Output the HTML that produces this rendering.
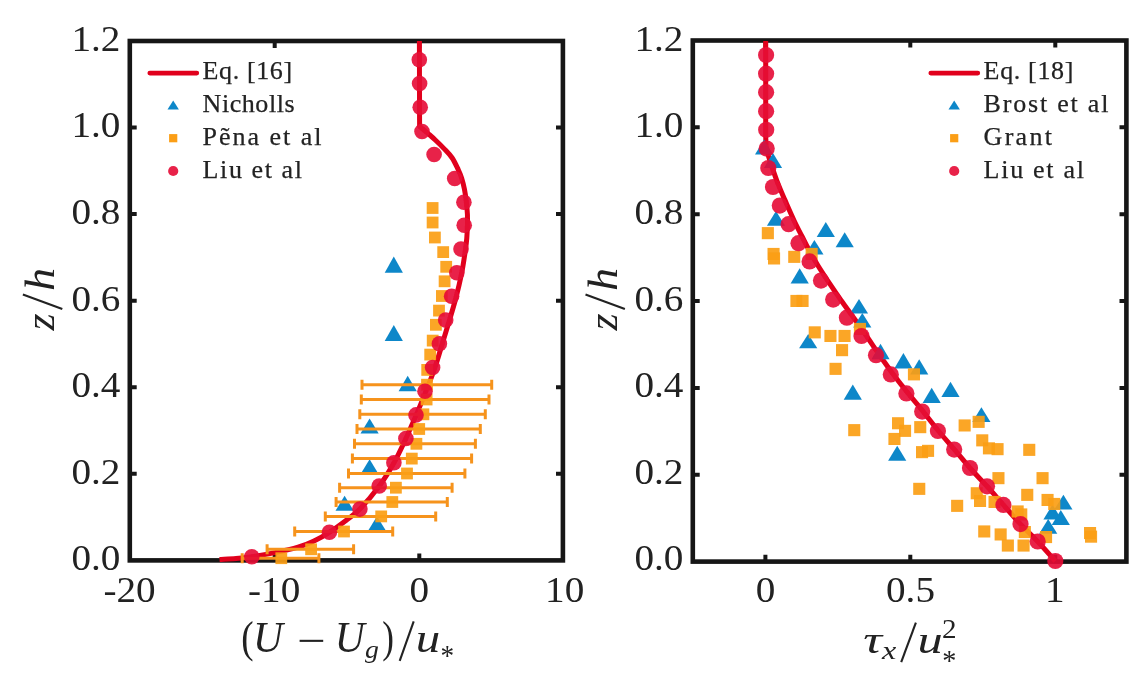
<!DOCTYPE html>
<html><head><meta charset="utf-8"><title>Profiles</title>
<style>html,body{margin:0;padding:0;background:#fff;}body{width:1147px;height:683px;overflow:hidden;}svg{display:block;}text{font-family:"Liberation Serif",serif;fill:#222222;stroke:#222222;stroke-width:0;}.lg{stroke-width:0.25px;}.tk{font-size:35px;}.lg{font-size:26px;}.lb{font-size:42px;}.it{font-style:italic;}</style>
</head><body>
<svg width="1147" height="683" viewBox="0 0 1147 683">
<defs><filter id="soft" x="0" y="0" width="1147" height="683" filterUnits="userSpaceOnUse"><feGaussianBlur stdDeviation="0.5"/></filter></defs>
<rect width="1147" height="683" fill="#ffffff"/>
<g filter="url(#soft)">
<rect width="1147" height="683" fill="#ffffff"/>
<g stroke="#141414" stroke-width="4.6" fill="none" stroke-linecap="butt">
<rect x="129.8" y="41.0" width="433.1" height="519.4" stroke-linejoin="miter"/>
<path d="M129.8 473.8h6.9M562.9 473.8h-6.9M129.8 387.3h6.9M562.9 387.3h-6.9M129.8 300.7h6.9M562.9 300.7h-6.9M129.8 214.1h6.9M562.9 214.1h-6.9M129.8 127.6h6.9M562.9 127.6h-6.9M274.7 560.4v-6.9M274.7 41.0v6.9M419.3 560.4v-6.9M419.3 41.0v6.9" stroke-width="4.0"/>
</g>
<g stroke="#141414" stroke-width="4.6" fill="none" stroke-linecap="butt">
<rect x="692.8" y="40.5" width="433.6" height="521.1" stroke-linejoin="miter"/>
<path d="M692.8 474.8h6.9M1126.4 474.8h-6.9M692.8 387.9h6.9M1126.4 387.9h-6.9M692.8 301.0h6.9M1126.4 301.0h-6.9M692.8 214.2h6.9M1126.4 214.2h-6.9M692.8 127.3h6.9M1126.4 127.3h-6.9M765.4 561.6v-6.9M765.4 40.5v6.9M910.3 561.6v-6.9M910.3 40.5v6.9M1055.3 561.6v-6.9M1055.3 40.5v6.9" stroke-width="4.0"/>
</g>
<text class="tk" transform="translate(120.4 570.2) scale(1.120 1.030)" text-anchor="end">0.0</text>
<text class="tk" transform="translate(120.4 483.6) scale(1.120 1.030)" text-anchor="end">0.2</text>
<text class="tk" transform="translate(120.4 397.1) scale(1.120 1.030)" text-anchor="end">0.4</text>
<text class="tk" transform="translate(120.4 310.5) scale(1.120 1.030)" text-anchor="end">0.6</text>
<text class="tk" transform="translate(120.4 223.9) scale(1.120 1.030)" text-anchor="end">0.8</text>
<text class="tk" transform="translate(120.4 137.4) scale(1.120 1.030)" text-anchor="end">1.0</text>
<text class="tk" transform="translate(120.4 50.8) scale(1.120 1.030)" text-anchor="end">1.2</text>
<text class="tk" transform="translate(683.4 570.2) scale(1.120 1.030)" text-anchor="end">0.0</text>
<text class="tk" transform="translate(683.4 483.6) scale(1.120 1.030)" text-anchor="end">0.2</text>
<text class="tk" transform="translate(683.4 397.1) scale(1.120 1.030)" text-anchor="end">0.4</text>
<text class="tk" transform="translate(683.4 310.5) scale(1.120 1.030)" text-anchor="end">0.6</text>
<text class="tk" transform="translate(683.4 223.9) scale(1.120 1.030)" text-anchor="end">0.8</text>
<text class="tk" transform="translate(683.4 137.4) scale(1.120 1.030)" text-anchor="end">1.0</text>
<text class="tk" transform="translate(683.4 50.8) scale(1.120 1.030)" text-anchor="end">1.2</text>
<text class="tk" transform="translate(129.5 602.2) scale(1.120 1.050)" text-anchor="middle">-20</text>
<text class="tk" transform="translate(274.1 602.2) scale(1.120 1.050)" text-anchor="middle">-10</text>
<text class="tk" transform="translate(419.3 602.2) scale(1.120 1.050)" text-anchor="middle">0</text>
<text class="tk" transform="translate(564.7 602.2) scale(1.120 1.050)" text-anchor="middle">10</text>
<text class="tk" transform="translate(765.6 602.2) scale(1.120 1.050)" text-anchor="middle">0</text>
<text class="tk" transform="translate(910.5 602.2) scale(1.120 1.050)" text-anchor="middle">0.5</text>
<text class="tk" transform="translate(1054.8 602.2) scale(1.120 1.050)" text-anchor="middle">1</text>
<g transform="translate(54.0 331.2) rotate(-90)">
<text font-size="42" class="it" transform="matrix(1.046 0 0 0.987 0.72 0.00)">z</text>
<path d="M22.3 8.3L36.8 -31.1" stroke="#222222" stroke-width="2.1" fill="none"/>
<text font-size="42" class="it" transform="matrix(1.099 0 0 0.993 40.25 0.00)">h</text>
</g>
<g transform="translate(616.6 331.2) rotate(-90)">
<text font-size="42" class="it" transform="matrix(1.046 0 0 0.987 0.72 0.00)">z</text>
<path d="M22.3 8.3L36.8 -31.1" stroke="#222222" stroke-width="2.1" fill="none"/>
<text font-size="42" class="it" transform="matrix(1.099 0 0 0.993 40.25 0.00)">h</text>
</g>
<g>
<text font-size="42" transform="matrix(0.882 0 0 1.075 241.36 651.79)">(</text>
<text font-size="42" class="it" transform="matrix(0.986 0 0 1.043 253.06 651.88)">U</text>
<rect x="299.6" y="639.8" width="23.6" height="2.1" fill="#222222"/>
<text font-size="42" class="it" transform="matrix(0.986 0 0 1.043 334.76 651.88)">U</text>
<text font-size="29" class="it" transform="matrix(0.956 0 0 0.841 364.90 657.55)">g</text>
<text font-size="42" transform="matrix(0.836 0 0 1.075 382.15 651.79)">)</text>
<path d="M399.7 660.9L413.7 621.4" stroke="#222222" stroke-width="2.1" fill="none"/>
<text font-size="42" class="it" transform="matrix(1.166 0 0 0.957 415.87 652.02)">u</text>
<text font-size="29" transform="matrix(0.939 0 0 1.010 440.39 665.18)">*</text>
</g>
<g>
<text font-size="42" class="it" transform="matrix(1.246 0 0 0.896 863.15 652.55)">τ</text>
<text font-size="29" class="it" transform="matrix(1.108 0 0 0.853 881.88 658.60)">x</text>
<path d="M901.2 662.2L915.9 622.6" stroke="#222222" stroke-width="2.1" fill="none"/>
<text font-size="42" class="it" transform="matrix(1.200 0 0 0.922 917.50 652.54)">u</text>
<text font-size="29" transform="matrix(1.004 0 0 0.935 941.94 638.00)">2</text>
<text font-size="29" transform="matrix(0.974 0 0 1.010 942.34 669.98)">*</text>
</g>
<g fill="none" stroke="#e1001d" stroke-width="5.0" stroke-linejoin="round">
<path d="M219.5 559.6 C222.2 559.4 230.6 559.1 236.0 558.6 C241.4 558.1 245.5 557.7 252.0 556.7 C258.5 555.7 267.3 554.2 275.0 552.6 C282.7 551.0 291.5 549.1 298.0 547.2 C304.5 545.3 308.8 543.5 314.0 541.0 C319.2 538.5 324.1 535.7 329.4 532.3 C334.7 528.9 340.9 524.4 346.0 520.5 C351.1 516.6 354.3 514.9 359.9 509.1 C365.4 503.4 373.6 493.7 379.3 486.0 C385.0 478.3 389.6 470.7 394.0 462.8 C398.4 454.9 402.2 446.5 405.9 438.5 C409.6 430.5 412.9 422.8 416.3 414.9 C419.7 407.0 422.9 399.0 426.0 391.2 C429.1 383.4 432.1 376.0 434.8 368.0 C437.6 360.0 440.1 351.0 442.5 343.0 C444.9 335.0 447.2 327.6 449.5 320.0 C451.8 312.4 454.0 305.2 456.0 297.5 C458.0 289.8 459.9 281.9 461.5 274.0 C463.1 266.1 464.5 256.0 465.4 250.0 C466.3 244.0 466.5 242.1 466.8 238.0 C467.1 233.9 467.3 229.4 467.4 225.4 C467.5 221.4 467.6 218.0 467.4 214.0 C467.2 210.0 466.8 205.8 466.3 201.6 C465.8 197.4 465.2 192.9 464.4 189.0 C463.6 185.1 462.6 181.2 461.6 178.0 C460.6 174.8 460.0 173.3 458.4 170.0 C456.8 166.7 454.6 161.6 452.2 158.0 C449.8 154.4 446.8 151.6 444.0 148.6 C441.2 145.6 438.1 142.6 435.3 140.0 C432.6 137.4 430.1 135.3 427.5 133.0 C424.9 130.7 420.9 127.5 419.6 126.4 L419.4 41"/>
<path d="M765.7 41 L765.7 132 L765.8 140.0 C765.9 141.6 765.8 145.8 766.6 149.5 C767.4 153.2 768.7 156.8 770.4 162.0 C772.1 167.2 774.4 174.3 776.8 180.6 C779.2 186.9 781.9 193.0 784.7 199.6 C787.6 206.2 791.0 214.1 793.9 220.2 C796.8 226.3 799.4 231.3 801.8 236.0 C804.2 240.7 805.5 243.5 808.2 248.5 C810.9 253.5 814.5 259.9 818.2 266.0 C822.0 272.1 826.9 279.5 830.7 285.2 C834.5 290.9 837.2 294.9 840.8 300.0 C844.4 305.1 848.2 310.2 852.4 316.0 C856.6 321.8 861.3 328.5 865.8 335.0 C870.3 341.5 875.0 348.6 879.6 355.2 C884.2 361.8 888.6 368.0 893.4 374.4 C898.2 380.8 903.2 387.2 908.2 393.4 C913.2 399.6 918.2 405.3 923.2 411.6 C928.2 417.9 933.3 424.7 938.5 431.0 C943.7 437.3 949.2 443.4 954.5 449.6 C959.8 455.8 964.6 461.9 970.0 468.0 C975.4 474.1 981.4 480.2 987.0 486.3 C992.6 492.4 997.8 498.6 1003.4 504.9 C1009.0 511.2 1014.8 518.0 1020.5 524.1 C1026.2 530.2 1031.9 535.4 1037.7 541.5 C1043.5 547.6 1052.4 557.8 1055.3 561.0"/>
</g>
<g fill="#0f87c9">
<path d="M393.8 256.6L402.9 272.8L384.7 272.8Z"/>
<path d="M393.8 325.1L402.9 341.0L384.7 341.0Z"/>
<path d="M407.7 375.8L416.8 391.3L398.6 391.3Z"/>
<path d="M369.6 418.4L378.7 433.6L360.5 433.6Z"/>
<path d="M369.6 459.3L378.7 474.3L360.5 474.3Z"/>
<path d="M344.6 495.8L353.7 510.8L335.5 510.8Z"/>
<path d="M377.0 516.2L386.1 531.0L367.9 531.0Z"/>
<path d="M764.1 139.5L773.2 154.6L755.0 154.6Z"/>
<path d="M773.0 153.0L782.1 168.0L763.9 168.0Z"/>
<path d="M776.0 211.0L785.1 225.8L766.9 225.8Z"/>
<path d="M825.8 221.9L834.9 236.9L816.7 236.9Z"/>
<path d="M844.7 232.2L853.8 247.2L835.6 247.2Z"/>
<path d="M814.4 240.0L823.5 254.6L805.3 254.6Z"/>
<path d="M799.7 268.2L808.8 283.6L790.6 283.6Z"/>
<path d="M859.0 299.0L868.1 313.5L849.9 313.5Z"/>
<path d="M862.3 313.0L871.4 327.5L853.2 327.5Z"/>
<path d="M808.2 334.0L817.3 348.3L799.1 348.3Z"/>
<path d="M880.5 343.8L889.6 359.3L871.4 359.3Z"/>
<path d="M903.4 353.0L912.5 368.4L894.3 368.4Z"/>
<path d="M919.2 359.3L928.3 374.4L910.1 374.4Z"/>
<path d="M852.8 384.5L861.9 399.8L843.7 399.8Z"/>
<path d="M931.7 387.7L940.8 402.9L922.6 402.9Z"/>
<path d="M950.5 381.8L959.6 397.0L941.4 397.0Z"/>
<path d="M981.4 407.2L990.5 421.9L972.3 421.9Z"/>
<path d="M897.2 445.7L906.3 460.7L888.1 460.7Z"/>
<path d="M1063.4 494.8L1072.5 509.5L1054.3 509.5Z"/>
<path d="M1052.5 504.5L1061.6 519.4L1043.4 519.4Z"/>
<path d="M1060.8 510.0L1069.9 524.9L1051.7 524.9Z"/>
<path d="M1048.2 519.0L1057.3 533.7L1039.1 533.7Z"/>
</g>
<g stroke="#f6931c" stroke-width="3" fill="none">
<path d="M361.3 384.7H492.4M362.0 379.7v10M491.7 379.7v10M360.6 399.5H489.7M361.3 394.5v10M489.0 394.5v10M359.1 414.3H486.0M359.8 409.3v10M485.3 409.3v10M356.3 429.0H481.0M357.0 424.0v10M480.3 424.0v10M353.8 443.8H476.1M354.5 438.8v10M475.4 438.8v10M351.7 458.6H472.3M352.4 453.6v10M471.6 453.6v10M347.8 473.5H465.6M348.5 468.5v10M464.9 468.5v10M338.9 487.7H452.8M339.6 482.7v10M452.1 482.7v10M335.4 502.0H448.0M336.1 497.0v10M447.3 497.0v10M324.6 516.4H436.4M325.3 511.4v10M435.7 511.4v10M294.0 531.5H393.4M294.7 526.5v10M392.7 526.5v10M266.4 549.3H354.3M267.1 544.3v10M353.6 544.3v10M241.5 558.2H319.6M242.2 553.2v10M318.9 553.2v10"/>
</g>
<g fill="#fb9e16" fill-opacity="0.92">
<rect x="426.7" y="202.1" width="11.8" height="11.8"/>
<rect x="426.7" y="216.6" width="11.8" height="11.8"/>
<rect x="429.0" y="231.6" width="11.8" height="11.8"/>
<rect x="437.3" y="246.2" width="11.8" height="11.8"/>
<rect x="440.3" y="260.9" width="11.8" height="11.8"/>
<rect x="438.7" y="275.4" width="11.8" height="11.8"/>
<rect x="436.0" y="290.1" width="11.8" height="11.8"/>
<rect x="433.1" y="304.7" width="11.8" height="11.8"/>
<rect x="430.0" y="318.9" width="11.8" height="11.8"/>
<rect x="426.8" y="334.7" width="11.8" height="11.8"/>
<rect x="424.3" y="348.7" width="11.8" height="11.8"/>
<rect x="421.3" y="364.0" width="11.8" height="11.8"/>
<rect x="421.1" y="378.8" width="11.8" height="11.8"/>
<rect x="420.7" y="393.6" width="11.8" height="11.8"/>
<rect x="417.5" y="408.4" width="11.8" height="11.8"/>
<rect x="413.3" y="423.1" width="11.8" height="11.8"/>
<rect x="410.5" y="437.9" width="11.8" height="11.8"/>
<rect x="405.9" y="452.7" width="11.8" height="11.8"/>
<rect x="401.1" y="467.6" width="11.8" height="11.8"/>
<rect x="390.0" y="481.8" width="11.8" height="11.8"/>
<rect x="386.4" y="496.1" width="11.8" height="11.8"/>
<rect x="375.3" y="510.5" width="11.8" height="11.8"/>
<rect x="338.1" y="525.6" width="11.8" height="11.8"/>
<rect x="305.2" y="543.4" width="11.8" height="11.8"/>
<rect x="275.4" y="552.3" width="11.8" height="11.8"/>
<rect x="761.8" y="227.1" width="12.1" height="12.1"/>
<rect x="767.5" y="247.9" width="12.1" height="12.1"/>
<rect x="768.0" y="252.4" width="12.1" height="12.1"/>
<rect x="788.2" y="250.8" width="12.1" height="12.1"/>
<rect x="805.6" y="247.9" width="12.1" height="12.1"/>
<rect x="790.4" y="294.9" width="12.1" height="12.1"/>
<rect x="796.5" y="294.9" width="12.1" height="12.1"/>
<rect x="808.7" y="326.3" width="12.1" height="12.1"/>
<rect x="824.4" y="329.9" width="12.1" height="12.1"/>
<rect x="838.5" y="329.9" width="12.1" height="12.1"/>
<rect x="853.9" y="322.9" width="12.1" height="12.1"/>
<rect x="836.0" y="344.1" width="12.1" height="12.1"/>
<rect x="829.5" y="362.8" width="12.1" height="12.1"/>
<rect x="907.9" y="368.3" width="12.1" height="12.1"/>
<rect x="848.2" y="424.1" width="12.1" height="12.1"/>
<rect x="892.0" y="417.2" width="12.1" height="12.1"/>
<rect x="899.0" y="424.8" width="12.1" height="12.1"/>
<rect x="888.4" y="432.9" width="12.1" height="12.1"/>
<rect x="914.2" y="421.1" width="12.1" height="12.1"/>
<rect x="916.0" y="446.1" width="12.1" height="12.1"/>
<rect x="922.0" y="444.8" width="12.1" height="12.1"/>
<rect x="958.6" y="419.4" width="12.1" height="12.1"/>
<rect x="972.6" y="415.8" width="12.1" height="12.1"/>
<rect x="976.2" y="434.3" width="12.1" height="12.1"/>
<rect x="982.9" y="442.3" width="12.1" height="12.1"/>
<rect x="991.5" y="443.1" width="12.1" height="12.1"/>
<rect x="913.2" y="482.8" width="12.1" height="12.1"/>
<rect x="992.4" y="472.1" width="12.1" height="12.1"/>
<rect x="1036.5" y="472.1" width="12.1" height="12.1"/>
<rect x="951.1" y="499.8" width="12.1" height="12.1"/>
<rect x="970.7" y="487.2" width="12.1" height="12.1"/>
<rect x="974.0" y="494.9" width="12.1" height="12.1"/>
<rect x="988.5" y="495.9" width="12.1" height="12.1"/>
<rect x="1021.2" y="488.8" width="12.1" height="12.1"/>
<rect x="1041.5" y="493.9" width="12.1" height="12.1"/>
<rect x="1048.2" y="497.9" width="12.1" height="12.1"/>
<rect x="1011.6" y="505.4" width="12.1" height="12.1"/>
<rect x="1015.2" y="508.4" width="12.1" height="12.1"/>
<rect x="978.2" y="525.4" width="12.1" height="12.1"/>
<rect x="994.6" y="528.4" width="12.1" height="12.1"/>
<rect x="1001.8" y="539.5" width="12.1" height="12.1"/>
<rect x="1017.5" y="539.5" width="12.1" height="12.1"/>
<rect x="1018.8" y="526.0" width="12.1" height="12.1"/>
<rect x="1040.0" y="531.0" width="12.1" height="12.1"/>
<rect x="1084.0" y="527.0" width="12.1" height="12.1"/>
<rect x="1085.0" y="530.6" width="12.1" height="12.1"/>
<rect x="1023.2" y="443.8" width="12.1" height="12.1"/>
</g>
<g fill="#e60a35" fill-opacity="0.9">
<circle cx="419.3" cy="59.7" r="7.8"/>
<circle cx="419.6" cy="83.5" r="7.8"/>
<circle cx="420.2" cy="107.2" r="7.8"/>
<circle cx="422.0" cy="131.5" r="7.8"/>
<circle cx="434.1" cy="154.5" r="7.8"/>
<circle cx="454.7" cy="178.5" r="7.8"/>
<circle cx="463.9" cy="202.3" r="7.8"/>
<circle cx="464.2" cy="225.3" r="7.8"/>
<circle cx="461.0" cy="249.1" r="7.8"/>
<circle cx="456.8" cy="272.8" r="7.8"/>
<circle cx="451.6" cy="296.3" r="7.8"/>
<circle cx="445.7" cy="320.1" r="7.8"/>
<circle cx="439.4" cy="343.8" r="7.8"/>
<circle cx="432.6" cy="367.5" r="7.8"/>
<circle cx="425.0" cy="391.2" r="7.8"/>
<circle cx="416.0" cy="414.9" r="7.8"/>
<circle cx="405.9" cy="438.5" r="7.8"/>
<circle cx="393.9" cy="462.8" r="7.8"/>
<circle cx="379.2" cy="486.0" r="7.8"/>
<circle cx="359.9" cy="509.1" r="7.8"/>
<circle cx="329.4" cy="532.3" r="7.8"/>
<circle cx="251.8" cy="556.7" r="7.8"/>
<circle cx="766.1" cy="55.0" r="8.1"/>
<circle cx="766.1" cy="73.7" r="8.1"/>
<circle cx="766.1" cy="92.2" r="8.1"/>
<circle cx="766.1" cy="111.2" r="8.1"/>
<circle cx="766.2" cy="129.8" r="8.1"/>
<circle cx="766.7" cy="148.6" r="8.1"/>
<circle cx="768.3" cy="168.0" r="8.1"/>
<circle cx="773.0" cy="187.0" r="8.1"/>
<circle cx="779.8" cy="205.6" r="8.1"/>
<circle cx="788.6" cy="224.2" r="8.1"/>
<circle cx="798.5" cy="243.2" r="8.1"/>
<circle cx="809.6" cy="261.4" r="8.1"/>
<circle cx="821.0" cy="280.6" r="8.1"/>
<circle cx="833.2" cy="299.6" r="8.1"/>
<circle cx="846.9" cy="317.7" r="8.1"/>
<circle cx="861.5" cy="336.0" r="8.1"/>
<circle cx="876.0" cy="355.2" r="8.1"/>
<circle cx="890.8" cy="374.4" r="8.1"/>
<circle cx="906.4" cy="393.4" r="8.1"/>
<circle cx="922.2" cy="411.6" r="8.1"/>
<circle cx="937.9" cy="431.0" r="8.1"/>
<circle cx="954.2" cy="449.6" r="8.1"/>
<circle cx="970.0" cy="468.0" r="8.1"/>
<circle cx="987.0" cy="486.3" r="8.1"/>
<circle cx="1003.4" cy="504.9" r="8.1"/>
<circle cx="1020.5" cy="524.1" r="8.1"/>
<circle cx="1037.7" cy="541.5" r="8.1"/>
<circle cx="1055.3" cy="561.0" r="8.1"/>
</g>
<path d="M149.8 73.1H196.8" stroke="#e1001d" stroke-width="4.7" stroke-linecap="round" fill="none"/>
<path fill="#0f87c9" d="M173.2 100.4L178.9 109.4L167.5 109.4Z"/>
<rect fill="#fb9e16" x="169.1" y="134.1" width="8.2" height="8.2"/>
<circle fill="#e60a35" fill-opacity="0.9" cx="173.2" cy="171" r="5.1"/>
<text class="lg" x="202.6" y="78.8" textLength="89.5" lengthAdjust="spacing">Eq. [16]</text>
<text class="lg" x="202.6" y="111.6" textLength="92.0" lengthAdjust="spacing">Nicholls</text>
<text class="lg" x="202.6" y="144.8" textLength="118.8" lengthAdjust="spacing">Pẽna et al</text>
<text class="lg" x="202.6" y="177.6" textLength="99.3" lengthAdjust="spacing">Liu et al</text>
<path d="M930.8 73.1H977.8" stroke="#e1001d" stroke-width="4.7" stroke-linecap="round" fill="none"/>
<path fill="#0f87c9" d="M954.2 100.4L959.9 109.4L948.5 109.4Z"/>
<rect fill="#fb9e16" x="950.1" y="134.1" width="8.2" height="8.2"/>
<circle fill="#e60a35" fill-opacity="0.9" cx="954.2" cy="171" r="5.1"/>
<text class="lg" x="983.6" y="78.8" textLength="89.8" lengthAdjust="spacing">Eq. [18]</text>
<text class="lg" x="983.6" y="111.6" textLength="124.8" lengthAdjust="spacing">Brost et al</text>
<text class="lg" x="983.6" y="144.8" textLength="68.3" lengthAdjust="spacing">Grant</text>
<text class="lg" x="983.6" y="177.6" textLength="100.3" lengthAdjust="spacing">Liu et al</text>
</g>
</svg></body></html>
